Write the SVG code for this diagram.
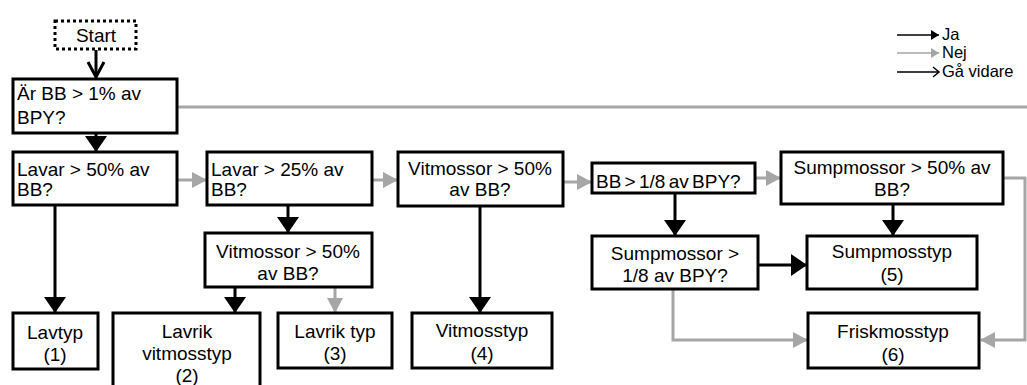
<svg xmlns="http://www.w3.org/2000/svg" width="1027" height="385" viewBox="0 0 1027 385">
<style>
.box{fill:#fff;stroke:#000;stroke-width:3}
.t{font-family:"Liberation Sans",Arial,sans-serif;font-size:19px;fill:#000}
.c{text-anchor:middle}
.lg{font-family:"Liberation Sans",Arial,sans-serif;font-size:16.5px;fill:#000}
.k{stroke:#000;stroke-width:3;fill:none}
.g{stroke:#a6a6a6;stroke-width:3;fill:none}
</style>
<defs>
<marker id="ab" markerUnits="userSpaceOnUse" markerWidth="16" markerHeight="22" refX="15" refY="11" orient="auto"><path d="M0,0 L16,11 L0,22 z" fill="#000"/></marker>
<marker id="ag" markerUnits="userSpaceOnUse" markerWidth="15" markerHeight="16" refX="14" refY="8" orient="auto"><path d="M0,0 L15,8 L0,16 z" fill="#a6a6a6"/></marker>
<marker id="abs" markerUnits="userSpaceOnUse" markerWidth="8" markerHeight="10" refX="8" refY="5" orient="auto"><path d="M0,0 L8,5 L0,10 z" fill="#000"/></marker>
<marker id="ags" markerUnits="userSpaceOnUse" markerWidth="8" markerHeight="10" refX="8" refY="5" orient="auto"><path d="M0,0 L8,5 L0,10 z" fill="#a6a6a6"/></marker>
</defs>
<g id="connectors">
<line class="k" x1="96" y1="50" x2="96" y2="77"/>
<polyline class="k" points="88,62 96,77 104,62"/>
<line class="g" x1="177" y1="107" x2="1027" y2="107"/>
<line class="k" x1="96" y1="133" x2="96" y2="151" marker-end="url(#ab)"/>
<line class="g" x1="177" y1="180" x2="206" y2="180" marker-end="url(#ag)"/>
<line class="g" x1="372" y1="180" x2="397" y2="180" marker-end="url(#ag)"/>
<line class="g" x1="563" y1="182" x2="591" y2="182" marker-end="url(#ag)"/>
<line class="g" x1="755" y1="178" x2="780" y2="178" marker-end="url(#ag)"/>
<polyline class="g" points="1003,178 1025,178 1025,340 981,340" marker-end="url(#ag)"/>
<line class="k" x1="55" y1="205" x2="55" y2="312" marker-end="url(#ab)"/>
<line class="k" x1="288" y1="205" x2="288" y2="232" marker-end="url(#ab)"/>
<line class="k" x1="235" y1="287" x2="235" y2="312" marker-end="url(#ab)"/>
<line class="g" x1="335" y1="287" x2="335" y2="312" marker-end="url(#ag)"/>
<line class="k" x1="480" y1="206" x2="480" y2="312" marker-end="url(#ab)"/>
<line class="k" x1="675" y1="193" x2="675" y2="235" marker-end="url(#ab)"/>
<line class="k" x1="893" y1="204" x2="893" y2="235" marker-end="url(#ab)"/>
<line class="k" x1="758" y1="265" x2="806" y2="265" marker-end="url(#ab)"/>
<polyline class="g" points="673,289 673,340 807,340" marker-end="url(#ag)"/>
</g>
<g id="legend">
<line x1="897" y1="35" x2="939" y2="35" stroke="#000" stroke-width="1.5" marker-end="url(#abs)"/>
<text class="lg" x="942" y="40">Ja</text>
<line x1="897" y1="53" x2="939" y2="53" stroke="#a6a6a6" stroke-width="1.5" marker-end="url(#ags)"/>
<text class="lg" x="942" y="58">Nej</text>
<line x1="897" y1="72" x2="939" y2="72" stroke="#000" stroke-width="1.5"/>
<polyline points="933,67 939,72 933,77" stroke="#000" stroke-width="1.5" fill="none"/>
<text class="lg" x="942" y="77">Gå vidare</text>
</g>
<g id="start">
<rect x="55" y="21" width="81" height="28" fill="#fff" stroke="#000" stroke-width="3" stroke-dasharray="3,3"/>
<text class="t c" x="96" y="42">Start</text>
</g>
<g id="q1">
<rect class="box" x="13" y="79" width="164" height="54"/>
<text class="t" x="17" y="100">Är BB &gt; 1% av</text>
<text class="t" x="17" y="124">BPY?</text>
</g>
<g id="q2">
<rect class="box" x="13" y="152" width="164" height="53"/>
<text class="t" x="17" y="176">Lavar &gt; 50% av</text>
<text class="t" x="17" y="196">BB?</text>
</g>
<g id="q3">
<rect class="box" x="207" y="152" width="165" height="53"/>
<text class="t" x="211" y="176">Lavar &gt; 25% av</text>
<text class="t" x="211" y="196">BB?</text>
</g>
<g id="q4">
<rect class="box" x="398" y="152" width="165" height="54"/>
<text class="t c" x="480" y="175">Vitmossor &gt; 50%</text>
<text class="t c" x="480" y="196">av BB?</text>
</g>
<g id="q5">
<rect class="box" x="592" y="163" width="163" height="30"/>
<text class="t" x="596" y="188" word-spacing="-2">BB &gt; 1/8 av BPY?</text>
</g>
<g id="q6">
<rect class="box" x="781" y="152" width="222" height="52"/>
<text class="t c" x="892" y="174">Sumpmossor &gt; 50% av</text>
<text class="t c" x="892" y="196">BB?</text>
</g>
<g id="q7">
<rect class="box" x="205" y="233" width="167" height="54"/>
<text class="t c" x="288" y="258">Vitmossor &gt; 50%</text>
<text class="t c" x="288" y="280">av BB?</text>
</g>
<g id="q8">
<rect class="box" x="592" y="236" width="166" height="53"/>
<text class="t c" x="675" y="260">Sumpmossor &gt;</text>
<text class="t c" x="675" y="282">1/8 av BPY?</text>
</g>
<g id="r5">
<rect class="box" x="807" y="236" width="170" height="53"/>
<text class="t c" x="892" y="258">Sumpmosstyp</text>
<text class="t c" x="892" y="281">(5)</text>
</g>
<g id="r1">
<rect class="box" x="13" y="313" width="85" height="56"/>
<text class="t c" x="55" y="339">Lavtyp</text>
<text class="t c" x="55" y="361">(1)</text>
</g>
<g id="r2">
<rect class="box" x="113" y="313" width="147" height="80"/>
<text class="t c" x="187" y="338">Lavrik</text>
<text class="t c" x="187" y="360">vitmosstyp</text>
<text class="t c" x="187" y="382">(2)</text>
</g>
<g id="r3">
<rect class="box" x="278" y="313" width="114" height="55"/>
<text class="t c" x="335" y="338">Lavrik typ</text>
<text class="t c" x="335" y="360">(3)</text>
</g>
<g id="r4">
<rect class="box" x="412" y="313" width="140" height="55"/>
<text class="t c" x="482" y="337">Vitmosstyp</text>
<text class="t c" x="482" y="360">(4)</text>
</g>
<g id="r6">
<rect class="box" x="808" y="313" width="171" height="55"/>
<text class="t c" x="893" y="338">Friskmosstyp</text>
<text class="t c" x="893" y="361">(6)</text>
</g>
</svg>
